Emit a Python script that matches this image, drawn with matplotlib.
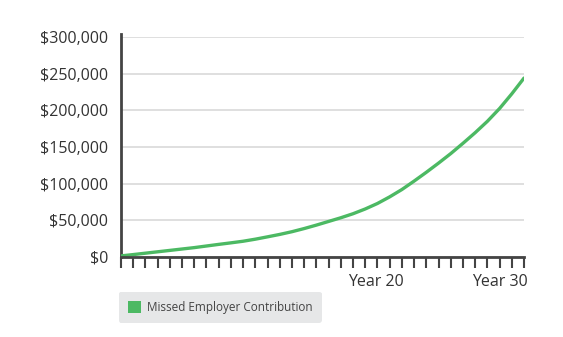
import matplotlib.pyplot as plt
from matplotlib.patches import Patch
from matplotlib.ticker import FuncFormatter

plt.rcParams['font.family'] = ['Open Sans', 'DejaVu Sans']

# value at each year tick (0..33)
years = list(range(34))
values = [1500, 3300, 5200, 7100, 9000, 10900, 12800, 15000, 17200, 19300,
          21500, 24300, 27500, 30800, 34500, 38800, 43500, 48500, 53500, 59000,
          65500, 73000, 82000, 92000, 103500, 115500, 128000, 141000, 155000,
          169500, 185000, 202500, 222500, 244000]
yticks = [0, 50000, 100000, 150000, 200000, 250000, 300000]
xlabels = ['Year 20', 'Year 30']
xlabel_pos = [20.9, 31.0]
series_name = 'Missed Employer Contribution'

green = '#4cb963'
W, H = 563, 337
fig = plt.figure(figsize=(W / 100, H / 100), dpi=100)
ax = fig.add_axes([121 / W, 1 - 257 / H, (524 - 121) / W, (257 - 37) / H])

ax.plot(years, values, color=green, lw=2.4, solid_capstyle='round', zorder=3)

ax.set_xlim(0, 33)
ax.set_ylim(0, 300000)
ax.set_yticks(yticks)
ax.yaxis.set_major_formatter(FuncFormatter(lambda v, p: '${:,.0f}'.format(v)))
ax.tick_params(axis='y', length=0, pad=9, labelsize=11.5, labelcolor='#333333')
ax.grid(axis='y', color='#d9d9d9', lw=1.2, zorder=0)

ax.set_xticks(years)
ax.set_xticklabels([])
ax.tick_params(axis='x', length=8, width=1.5, color='#444444', direction='out')
for lbl, pos in zip(xlabels, xlabel_pos):
    ax.text(pos, -0.075, lbl, transform=ax.get_xaxis_transform(), ha='center', va='top',
            fontsize=11.5, color='#333333', fontweight='medium')

for s in ['top', 'right']:
    ax.spines[s].set_visible(False)
for s in ['left', 'bottom']:
    ax.spines[s].set_color('#444444')
    ax.spines[s].set_linewidth(2)
ax.spines['left'].set_bounds(0, 304000)
ax.spines['bottom'].set_zorder(4)

leg = fig.legend(handles=[Patch(facecolor=green, edgecolor='none', label=series_name)],
                 loc='upper left', bbox_to_anchor=(119 / W, 1 - 292 / H),
                 bbox_transform=fig.transFigure, borderaxespad=0, fontsize=8.5,
                 handlelength=1.1, handleheight=1.1, handletextpad=0.55,
                 borderpad=0.75, frameon=True, fancybox=True)
leg.get_frame().set_facecolor('#e6e7e8')
leg.get_frame().set_edgecolor('none')
leg.get_frame().set_alpha(1)
for t in leg.get_texts():
    t.set_color('#444444')

fig.savefig('out.png', dpi=100)
